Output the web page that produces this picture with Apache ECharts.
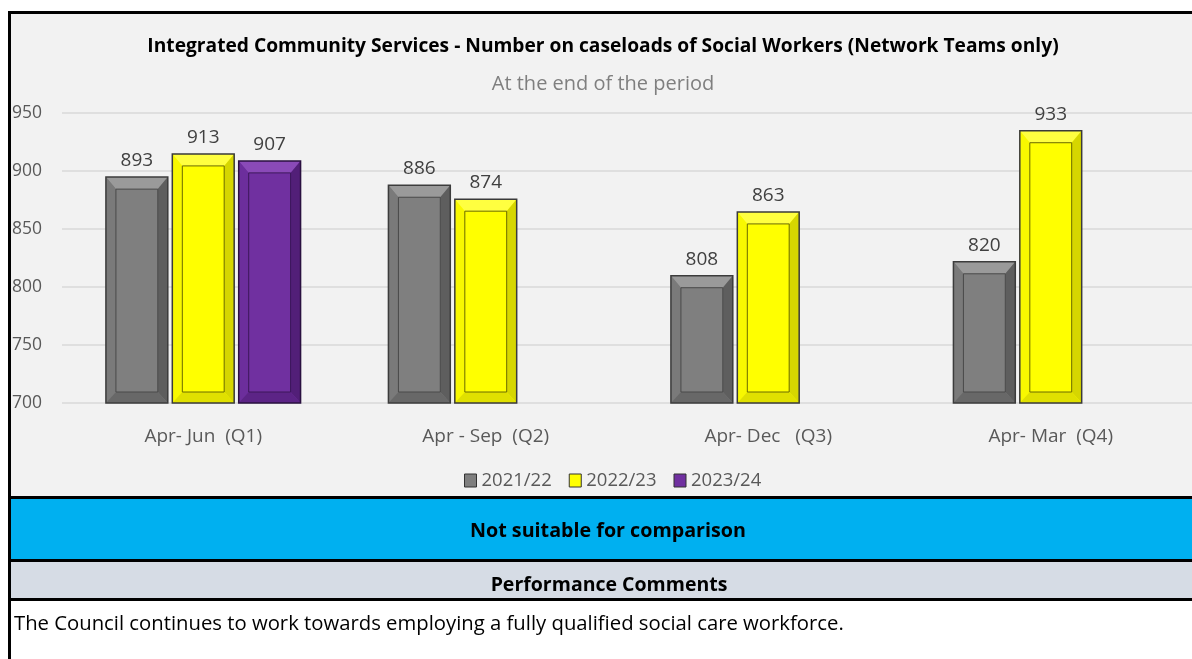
<!DOCTYPE html>
<html>
<head>
<meta charset="utf-8">
<script src="https://cdn.jsdelivr.net/npm/echarts@6/dist/echarts.min.js"></script>
<style>
html,body{margin:0;padding:0;background:#fff;}
#chart{width:1192px;height:659px;}
</style>
</head>
<body>
<div id="chart"></div>
<script>
const titleText = 'Integrated Community Services - Number on caseloads of Social Workers (Network Teams only)';
const subtitleText = 'At the end of the period';
const categories = ['Apr- Jun  (Q1)', 'Apr - Sep  (Q2)', 'Apr- Dec   (Q3)', 'Apr- Mar  (Q4)'];
const seriesNames = ['2021/22', '2022/23', '2023/24'];
const values2122 = [893, 886, 808, 820];
const values2223 = [913, 874, 863, 933];
const values2324 = [907, null, null, null];
const yMin = 700, yMax = 950, yInterval = 50;
const statusText = 'Not suitable for comparison';
const commentsHeader = 'Performance Comments';
const commentText = 'The Council continues to work towards employing a fully qualified social care workforce.';

const FONT = '"Open Sans", "Noto Sans", sans-serif';
const palettes = [
  {base:'#7f7f7f', light:'#9a9a9a', mid:'#7a7a7a', dark:'#5e5e5e', darker:'#686868', stroke:'#3c3c3c', inner:'#4a4a4a'},
  {base:'#ffff00', light:'#ffff40', mid:'#f8f800', dark:'#d6d600', darker:'#e0e000', stroke:'#3a3a3a', inner:'#6a6a00'},
  {base:'#7030a0', light:'#8a4ab8', mid:'#6c2e9c', dark:'#521f78', darker:'#5c2486', stroke:'#2a1040', inner:'#3c175a'}
];

function toData(arr){ const out=[]; arr.forEach((v,i)=>{ if(v!=null) out.push([i,v]); }); return out; }

function renderBar(params, api){
  const cat = api.value(0), val = api.value(1);
  const top = api.coord([cat, val]);
  const base = api.coord([cat, yMin]);
  const band = api.size([1,0])[0];
  const bw = band*0.219, gap = band*0.016;
  const idx = params.seriesIndex;
  const p = palettes[idx];
  const cx = top[0] + (idx-1)*(bw+gap);
  const x0 = cx-bw/2, x1 = cx+bw/2, y0 = top[1]-2, y1 = base[1];
  const b = 10, bt = 12, bb = 11;
  return {
    type:'group',
    children:[
      {type:'rect', shape:{x:x0,y:y0,width:bw,height:y1-y0}, style:{fill:p.base}},
      {type:'polygon', shape:{points:[[x0,y0],[x1,y0],[x1-b,y0+bt],[x0+b,y0+bt]]}, style:{fill:p.light}},
      {type:'polygon', shape:{points:[[x0,y0],[x0+b,y0+bt],[x0+b,y1-bb],[x0,y1]]}, style:{fill:p.mid}},
      {type:'polygon', shape:{points:[[x1,y0],[x1,y1],[x1-b,y1-bb],[x1-b,y0+bt]]}, style:{fill:p.dark}},
      {type:'polygon', shape:{points:[[x0,y1],[x0+b,y1-bb],[x1-b,y1-bb],[x1,y1]]}, style:{fill:p.darker}},
      {type:'rect', shape:{x:x0+b,y:y0+bt,width:bw-2*b,height:y1-y0-bt-bb}, style:{fill:p.base, stroke:p.inner, lineWidth:1}},
      {type:'rect', shape:{x:x0,y:y0,width:bw,height:y1-y0}, style:{fill:null, stroke:p.stroke, lineWidth:1.5}},
      {type:'text', x:cx, y:y0-7, style:{text:String(val), fill:'#404040', font:'19px '+FONT, textAlign:'center', textVerticalAlign:'bottom'}}
    ]
  };
}

const allValues = [values2122, values2223, values2324];
const chart = echarts.init(document.getElementById('chart'), null, {renderer:'canvas'});
chart.setOption({
  animation:false,
  backgroundColor:'#ffffff',
  textStyle:{fontFamily:FONT},
  graphic:[
    {type:'rect', z:-10, shape:{x:9,y:12,width:1200,height:486}, style:{fill:'#f2f2f2'}},
    {type:'rect', z:-10, shape:{x:9,y:499,width:1200,height:61}, style:{fill:'#00b0f0'}},
    {type:'rect', z:-10, shape:{x:9,y:562,width:1200,height:37}, style:{fill:'#d6dce5'}},
    {type:'rect', z:-10, shape:{x:9,y:601,width:1200,height:60}, style:{fill:'#ffffff'}},
    {type:'rect', z:5, shape:{x:8,y:11,width:1200,height:3}, style:{fill:'#000'}},
    {type:'rect', z:5, shape:{x:8,y:11,width:3,height:660}, style:{fill:'#000'}},
    {type:'rect', z:5, shape:{x:8,y:496,width:1200,height:3}, style:{fill:'#000'}},
    {type:'rect', z:5, shape:{x:8,y:559,width:1200,height:3}, style:{fill:'#000'}},
    {type:'rect', z:5, shape:{x:8,y:598,width:1200,height:3}, style:{fill:'#000'}},
    {type:'text', z:5, x:603, y:47, style:{text:titleText, font:'bold 19.2px '+FONT, fill:'#000', textAlign:'center', textVerticalAlign:'middle'}},
    {type:'text', z:5, x:603, y:84, style:{text:subtitleText, font:'20px '+FONT, fill:'#7f7f7f', textAlign:'center', textVerticalAlign:'middle'}},
    {type:'text', z:5, x:608, y:531, style:{text:statusText, font:'bold 19.7px '+FONT, fill:'#000', textAlign:'center', textVerticalAlign:'middle'}},
    {type:'text', z:5, x:609, y:585, style:{text:commentsHeader, font:'bold 19.5px '+FONT, fill:'#000', textAlign:'center', textVerticalAlign:'middle'}},
    {type:'text', z:5, x:14, y:624, style:{text:commentText, font:'20.3px '+FONT, fill:'#000', textAlign:'left', textVerticalAlign:'middle'}}
  ],
  grid:{left:62, top:113, width:1132, height:290, containLabel:false},
  legend:{
    data:seriesNames, left:459, top:466, icon:'rect', itemWidth:12, itemHeight:13, itemGap:17,
    itemStyle:{borderColor:'#333', borderWidth:1},
    textStyle:{fontSize:18.5, color:'#595959', fontFamily:FONT}
  },
  xAxis:{
    type:'category', data:categories,
    axisLine:{show:false}, axisTick:{show:false},
    axisLabel:{fontSize:19, color:'#595959', margin:24, fontFamily:FONT}
  },
  yAxis:{
    type:'value', min:yMin, max:yMax, interval:yInterval,
    axisLine:{show:false}, axisTick:{show:false},
    splitLine:{lineStyle:{color:'#d9d9d9', width:1.5}},
    axisLabel:{fontSize:17.5, color:'#595959', align:'left', margin:50, fontFamily:FONT}
  },
  series: seriesNames.map((name,i)=>({
    name:name, type:'custom', renderItem:renderBar,
    itemStyle:{color:palettes[i].base},
    encode:{x:0, y:1},
    data:toData(allValues[i])
  }))
});
</script>
</body>
</html>
